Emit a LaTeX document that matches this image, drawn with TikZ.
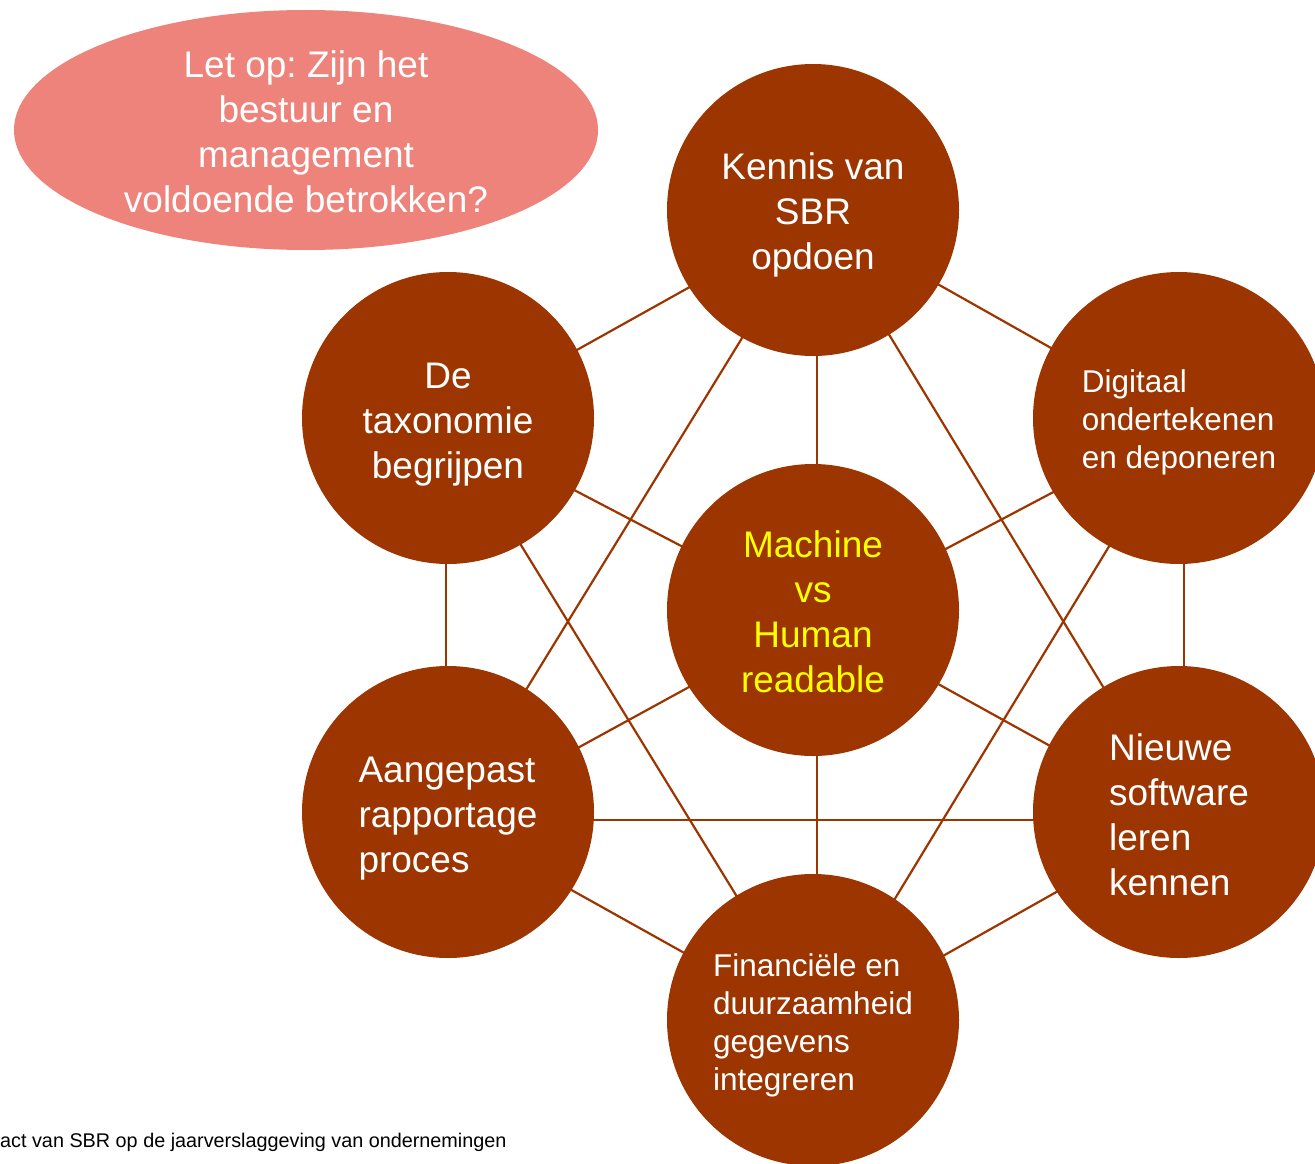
\documentclass[tikz,border=0pt]{standalone}
\usepackage{fontspec}
\setmainfont{Liberation Sans}
\frenchspacing
\usetikzlibrary{shapes.geometric,backgrounds,calc}
\definecolor{brown}{RGB}{156,53,0}
\definecolor{salmon}{RGB}{237,131,122}
\definecolor{yel}{RGB}{255,255,0}
\tikzset{
  bubble/.style={circle, fill=brown, minimum size=292pt, inner sep=0pt},
  bigtxt/.style={font=\fontsize{37}{45}\selectfont, text=white, inner sep=0pt},
  smalltxt/.style={font=\fontsize{31.5}{38}\selectfont, text=white, inner sep=0pt},
  link/.style={draw=brown, line width=2.2pt},
}
\begin{document}
\begin{tikzpicture}[x=1pt, y=-1pt]
\useasboundingbox (0,0) rectangle (1315,1164);
% note ellipse
\node[ellipse, fill=salmon, minimum width=584pt, minimum height=240pt, inner sep=0pt] (note) at (306,130) {};
\node[bigtxt, align=center] (notet) at ($(note.center)+(0,2)$)
  {Let op: Zijn het\\bestuur en\\management\\voldoende betrokken?};
% circles
\node[bubble] (T) at (813,210) {};
\node[bubble] (UL) at (448,418) {};
\node[bubble] (UR) at (1179,418) {};
\node[bubble] (C) at (813,610) {};
\node[bubble] (LL) at (448,812) {};
\node[bubble] (LR) at (1179,812) {};
\node[bubble] (B) at (813,1020) {};
% texts
\node[bigtxt, align=center] (Tt) at ($(T.center)+(0,5)$) {Kennis van\\SBR\\opdoen};
\node[bigtxt, align=center] (ULt) at ($(UL.center)+(0,7)$) {De\\taxonomie\\begrijpen};
\node[smalltxt, align=left] (URt) at ($(UR.center)+(0,4)$) {Digitaal\\ondertekenen\\en deponeren};
\node[bigtxt, align=center, text=yel] (Ct) at ($(C.center)+(0,2)$) {Machine\\vs\\Human\\readable};
\node[bigtxt, align=left] (LLt) at ($(LL.center)+(0,7)$) {Aangepast\\rapportage\\proces};
\node[bigtxt, align=left] (LRt) at ($(LR.center)+(0,3)$) {Nieuwe\\software\\leren\\kennen};
\node[smalltxt, align=left] (Bt) at ($(B.center)+(0,5)$) {Financiële en\\duurzaamheid\\gegevens\\integreren};
% connector hubs
\coordinate (hT) at ($(T.center)+(4,6)$);
\coordinate (hUL) at ($(UL.center)+(-2,5)$);
\coordinate (hUR) at ($(UR.center)+(5,5)$);
\coordinate (hC) at ($(C.center)+(4,7)$);
\coordinate (hLL) at ($(LL.center)+(-2,8)$);
\coordinate (hLR) at ($(LR.center)+(5,8)$);
\coordinate (hB) at ($(B.center)+(4,7)$);
\begin{pgfonlayer}{background}
\draw[link] (hT) -- (hUL);
\draw[link] (hT) -- (hUR);
\draw[link] (hT) -- (hC);
\draw[link] (hT) -- (hLL);
\draw[link] (hT) -- (hLR);
\draw[link] (hUL) -- (hC);
\draw[link] (hUL) -- (hB);
\draw[link] (hUL) -- (hLL);
\draw[link] (hUR) -- (hC);
\draw[link] (hUR) -- (hB);
\draw[link] (hUR) -- (hLR);
\draw[link] (hLL) -- (hC);
\draw[link] (hLL) -- (hLR);
\draw[link] (hLL) -- (hB);
\draw[link] (hC) -- (hB);
\draw[link] (hLR) -- (hC);
\draw[link] (hLR) -- (hB);
\end{pgfonlayer}
% footer
\node[anchor=west, inner sep=0pt, font=\fontsize{19.8}{24}\selectfont] (foot) at (0,1142)
  {act van SBR op de jaarverslaggeving van ondernemingen};
\end{tikzpicture}
\end{document}
